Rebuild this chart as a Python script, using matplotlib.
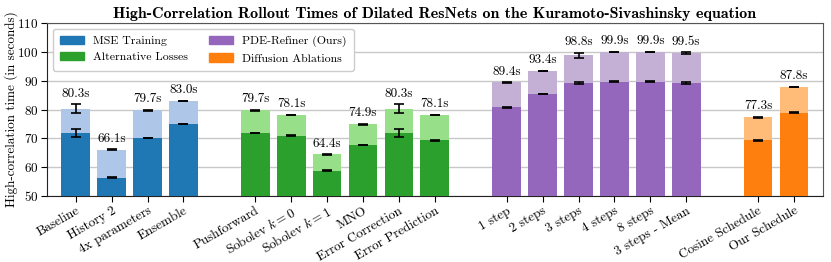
import matplotlib
matplotlib.use("Agg")
import matplotlib.pyplot as plt
import numpy as np
from matplotlib.patches import Patch

plt.rcParams['font.family'] = 'serif'
plt.rcParams['font.serif'] = ['cmr10', 'DejaVu Serif']
plt.rcParams['mathtext.fontset'] = 'cm'
plt.rcParams['axes.unicode_minus'] = False
plt.rcParams['axes.formatter.use_mathtext'] = True

labels = ["Baseline", "History 2", "4x parameters", "Ensemble",
          "Pushforward", "Sobolev $k=0$", "Sobolev $k=1$", "MNO", "Error Correction", "Error Prediction",
          "1 step", "2 steps", "3 steps", "4 steps", "8 steps", "3 steps - Mean",
          "Cosine Schedule", "Our Schedule"]
groups = [0, 0, 0, 0, 1, 1, 1, 1, 1, 1, 2, 2, 2, 2, 2, 2, 3, 3]
total = [80.3, 66.1, 79.7, 83.0,
         79.7, 78.1, 64.4, 74.9, 80.3, 78.1,
         89.4, 93.4, 98.8, 99.9, 99.9, 99.5,
         77.3, 87.8]
total_err = [1.5, 0.1, 0.1, 0.1,
             0.1, 0.1, 0.1, 0.1, 1.5, 0.1,
             0.1, 0.1, 0.8, 0.1, 0.1, 0.3,
             0.1, 0.1]
lower = [71.8, 56.4, 70.1, 75.0,
         71.8, 70.9, 58.8, 67.7, 71.8, 69.3,
         80.7, 85.4, 89.1, 89.7, 89.7, 89.1,
         69.3, 78.9]
lower_err = [1.5, 0.1, 0.1, 0.1,
             0.1, 0.1, 0.1, 0.1, 1.5, 0.1,
             0.1, 0.1, 0.3, 0.1, 0.1, 0.3,
             0.1, 0.1]
group_names = ["MSE Training", "Alternative Losses", "PDE-Refiner (Ours)", "Diffusion Ablations"]
dark = ["#1f77b4", "#2ca02c", "#9467bd", "#ff7f0e"]
light = ["#aec7e8", "#98df8a", "#c5b0d5", "#ffbb78"]

# positions: groups separated by one empty slot
pos = []
p = 0
prev = groups[0]
for g in groups:
    if g != prev:
        p += 1
        prev = g
    pos.append(p)
    p += 1
pos = np.array(pos)

fig = plt.figure(figsize=(8.31, 2.62), dpi=100)
ax = fig.add_axes([0.0566, 0.252, 0.9334, 0.66])

for x, t, te, l, le, g in zip(pos, total, total_err, lower, lower_err, groups):
    ax.bar(x, t, width=0.8, color=light[g], zorder=2)
    ax.bar(x, l, width=0.8, color=dark[g], zorder=3)
    ax.errorbar(x, t, yerr=te, fmt='none', ecolor='black', capsize=3.5, elinewidth=1.2, capthick=1.2, zorder=4)
    ax.errorbar(x, l, yerr=le, fmt='none', ecolor='black', capsize=3.5, elinewidth=1.2, capthick=1.2, zorder=4)
    ax.text(x, t + te + 1.6, f"{t:.1f}s", ha='center', va='bottom', fontsize=9.5)

ax.set_ylim(50, 110)
ax.set_xlim(pos[0] - 0.8, pos[-1] + 0.8)
ax.set_yticks(np.arange(50, 111, 10))
ax.set_xticks(pos)
ax.set_xticklabels(labels, rotation=30, ha='right', rotation_mode='anchor', fontsize=9.5)
ax.tick_params(axis='y', labelsize=9.5, length=4.5, pad=1.5)
ax.tick_params(axis='x', length=4, pad=2.5)
ax.yaxis.grid(True, color='#c8c8c8', linewidth=1.0, zorder=0)
ax.set_axisbelow(True)
ax.set_ylabel("High-correlation time (in seconds)", fontsize=9.5)
ax.yaxis.set_label_coords(-0.038, 0.5)
for s in ax.spines.values():
    s.set_color('#555555')
ax.spines['left'].set_color('#222222')
ax.spines['bottom'].set_color('#222222')

handles = [Patch(color=c, label=n) for c, n in zip(dark, group_names)]
ax.legend(handles=handles, loc='upper left', ncol=2, fontsize=8.5, framealpha=1.0,
          edgecolor='#cccccc', columnspacing=1.8, handlelength=2.0, handletextpad=0.8,
          borderpad=0.6, labelspacing=0.5)

fig.suptitle("High-Correlation Rollout Times of Dilated ResNets on the Kuramoto-Sivashinsky equation",
             fontfamily='cmb10', fontsize=11.5, x=0.523, y=0.975, va='top')

fig.savefig("out.png", dpi=100)
